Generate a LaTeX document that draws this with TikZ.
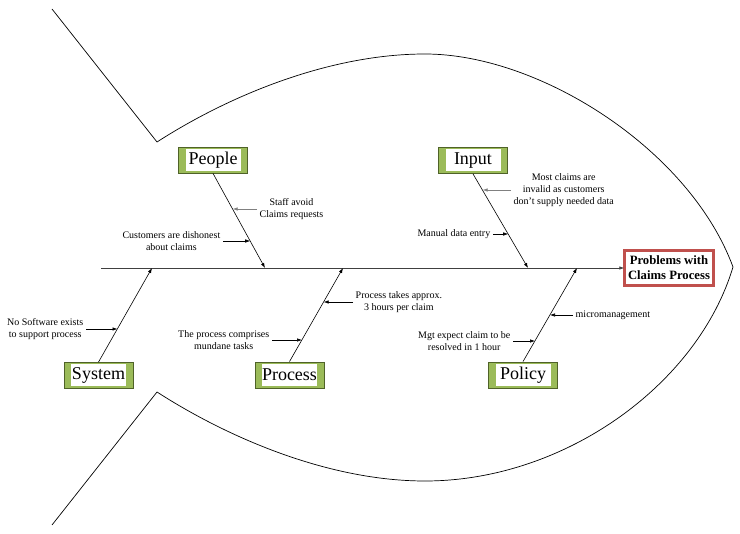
\documentclass[tikz,border=0pt]{standalone}
\usepackage{fontspec}
\setmainfont{Liberation Serif}
\usetikzlibrary{arrows.meta}
\definecolor{catgreen}{HTML}{9BBB59}
\definecolor{catedge}{HTML}{4F6228}
\definecolor{effred}{HTML}{C0504D}
\definecolor{effedge}{HTML}{632523}

\begin{document}
\begin{tikzpicture}[x=1pt,y=-1pt,
  cat/.style={draw=catedge,line width=0.8pt,fill=catgreen,minimum width=69pt,minimum height=26pt,inner sep=0pt,
    font=\fontsize{18}{18}\selectfont,
    path picture={\fill[white] ([xshift=7pt,yshift=-2pt]path picture bounding box.north west) rectangle ([xshift=-7pt,yshift=2pt]path picture bounding box.south east);}},
  effect/.style={draw=effedge,double=effred,double distance=2.2pt,line width=0.5pt,fill=white,minimum width=89pt,minimum height=35pt,
    inner sep=1pt,align=center,font=\bfseries\fontsize{12.7}{15}\selectfont},
  note/.style={align=center,inner sep=2.5pt,font=\fontsize{10}{12}\selectfont},
  bone/.style={line width=0.6pt,-{Latex[length=5pt,width=3.5pt]}},
  cause/.style={line width=0.6pt,-{Latex[length=5pt,width=3.5pt]}}]
\useasboundingbox (0,0) rectangle (740,534);

% fish outline
\draw[line width=0.7pt] (52,9) -- (157,142) .. controls (230,95) and (330,54) .. (425,54)
  .. controls (540,54) and (690,150) .. (733,267) .. controls (698,384) and (565,481) .. (425,481)
  .. controls (330,481) and (230,439) .. (157,392) -- (52,525);

% head and spine
\node[effect] (problems) at (669,268) {Problems with\\Claims Process};
\coordinate (spine) at (101,268);
\draw[bone,draw=black!75] (spine) -- (problems);

% categories
\node[cat] (people) at (213,160) {People};
\node[cat] (input) at (473,160.5) {Input};
\node[cat] (system) at (98.5,375.5) {System};
\node[cat] (process) at (289.5,375) {Process};
\node[cat] (policy) at (523,375) {Policy};

\coordinate (jpeople) at (265,268);
\coordinate (jinput) at (528,268);
\coordinate (jsystem) at (152,268);
\coordinate (jprocess) at (343,268);
\coordinate (jpolicy) at (577,268);

\draw[bone] (people.south) -- (jpeople);
\draw[bone] (input.south) -- (jinput);
\draw[bone] (system.north) -- (jsystem);
\draw[bone] (process.north) -- (jprocess);
\draw[bone] (policy.north) -- (jpolicy);

% causes
\node[note,anchor=west] (staff) at (257,209) {Staff avoid\\Claims requests};
\node[note,anchor=east] (customers) at (223,241) {Customers are dishonest\\about claims};
\node[note,anchor=west] (invalid) at (511,190) {Most claims are\\invalid as customers\\don’t supply needed data};
\node[note,anchor=east] (manual) at (493,234) {Manual data entry};
\node[note,anchor=east] (software) at (86,329) {No Software exists\\to support process};
\node[note,anchor=west] (hours) at (353,302) {Process takes approx.\\3 hours per claim};
\node[note,anchor=east] (mundane) at (272,340) {The process comprises\\mundane tasks};
\node[note,anchor=west] (micro) at (573,315) {micromanagement};
\node[note,anchor=east] (expect) at (513,341) {Mgt expect claim to be\\resolved in 1 hour};

\coordinate (c1) at (232.7,209);
\coordinate (c2) at (250.2,241);
\coordinate (c3) at (482.6,190);
\coordinate (c4) at (508.2,234);
\coordinate (c5) at (117.5,329);
\coordinate (c6) at (323.6,302);
\coordinate (c7) at (302,340);
\coordinate (c8) at (550,315);
\coordinate (c9) at (535,341);

\draw[cause,draw=black!50] (staff.west) -- (c1);
\draw[cause] (customers.east) -- (c2);
\draw[cause,draw=black!50] (invalid.west) -- (c3);
\draw[cause] (manual.east) -- (c4);
\draw[cause] (software.east) -- (c5);
\draw[cause] (hours.west) -- (c6);
\draw[cause] (mundane.east) -- (c7);
\draw[cause] (micro.west) -- (c8);
\draw[cause] (expect.east) -- (c9);
\end{tikzpicture}
\end{document}
